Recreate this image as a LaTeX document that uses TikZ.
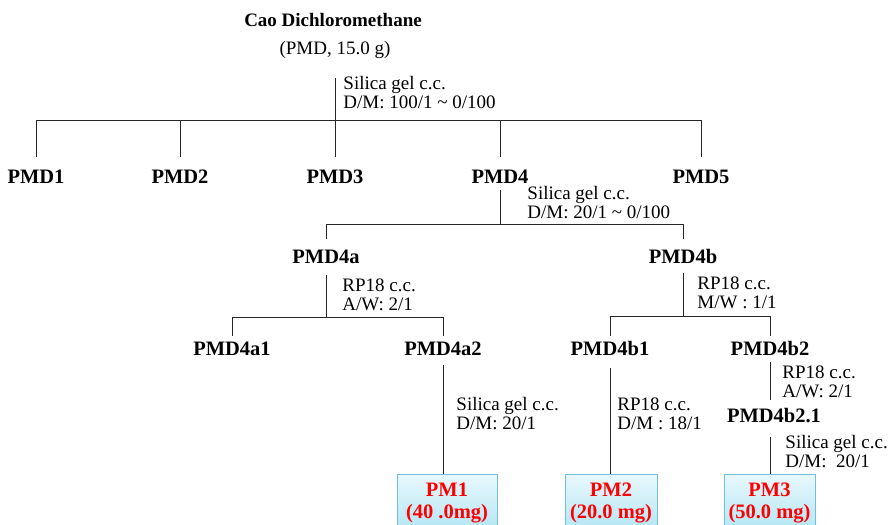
\documentclass[tikz,border=0pt]{standalone}
\usepackage{fontspec}
\setmainfont{Liberation Serif}
\usetikzlibrary{calc}

\definecolor{boxline}{HTML}{6EC1D9}
\definecolor{boxtop}{HTML}{E8F8FD}
\definecolor{boxbot}{HTML}{B3E5F4}

\begin{document}
\begin{tikzpicture}[
    x=1pt, y=-1pt,
    line width=0.9pt,
    lbl/.style={inner sep=0pt, anchor=base, text height=14pt, text depth=0pt,
                font=\fontsize{20.5}{22}\selectfont\bfseries},
    note/.style={inner sep=0pt, anchor=north west, align=left,
                 font=\fontsize{19}{19}\selectfont},
    pmbox/.style={draw=boxline, line width=0.8pt, top color=boxtop, bottom color=boxbot,
                  minimum height=58pt, inner sep=0pt, align=center, text=red,
                  font=\fontsize{20.5}{22}\selectfont\bfseries},
    tree/.style={draw=black!85},
  ]
  \useasboundingbox (0,0) rectangle (890,524);
  \clip (0,0) rectangle (890,524);

  %% ===== 出発物 =====
  \node[lbl, font=\fontsize{19}{20}\selectfont\bfseries] (title) at (333,27) {Cao Dichloromethane};
  \node[lbl, font=\fontsize{19}{20}\selectfont] (sub) at (335,55) {(PMD, 15.0 g)};
  \node[note] (n0) at (343,76) {Silica gel c.c.\\D/M: 100/1 \textasciitilde{} 0/100};
  \coordinate (j0) at (335,120);

  %% ===== 第1段: PMD1--PMD5 =====
  \node[lbl] (pmd1) at (36,183)  {PMD1};
  \node[lbl] (pmd2) at (180,183) {PMD2};
  \node[lbl] (pmd3) at (335,183) {PMD3};
  \node[lbl] (pmd4) at (500,183) {PMD4};
  \node[lbl] (pmd5) at (701,183) {PMD5};

  \draw[tree] ([yshift=-23pt]sub.south) -- (j0);
  \foreach \c in {pmd1,pmd2,pmd3,pmd4,pmd5}
    \draw[tree] (j0) -| ([yshift=12pt]\c.north);

  %% ===== 第2段: PMD4a, PMD4b =====
  \node[note] (n4) at (527,186) {Silica gel c.c.\\D/M: 20/1 \textasciitilde{} 0/100};
  \coordinate (j4) at (500,224);
  \node[lbl] (pmd4a) at (326,263) {PMD4a};
  \node[lbl] (pmd4b) at (683,263) {PMD4b};

  \draw[tree] ([yshift=-7pt]pmd4.south) -- (j4);
  \foreach \c in {pmd4a,pmd4b}
    \draw[tree] (j4) -| ([yshift=10pt]\c.north);

  %% ===== 第3段: PMD4a1, PMD4a2, PMD4b1, PMD4b2 =====
  \node[note] (n4a) at (342,278) {RP18 c.c.\\A/W: 2/1};
  \node[note] (n4b) at (697,276) {RP18 c.c.\\M/W : 1/1};
  \coordinate (j4a) at (326,317);
  \coordinate (j4b) at (683,316);
  \node[lbl] (pmd4a1) at (232,355) {PMD4a1};
  \node[lbl] (pmd4a2) at (443,355) {PMD4a2};
  \node[lbl] (pmd4b1) at (610,355) {PMD4b1};
  \node[lbl] (pmd4b2) at (770,355) {PMD4b2};

  \draw[tree] ([yshift=-12pt]pmd4a.south) -- (j4a);
  \draw[tree] ([yshift=-10pt]pmd4b.south) -- (j4b);
  \foreach \c in {pmd4a1,pmd4a2}
    \draw[tree] (j4a) -| ([yshift=5pt]\c.north);
  \foreach \c in {pmd4b1,pmd4b2}
    \draw[tree] (j4b) -| ([yshift=5pt]\c.north);

  %% ===== PMD4b2 -> PMD4b2.1 =====
  \node[note] (n4b2) at (782,365) {RP18 c.c.\\A/W: 2/1};
  \node[lbl] (pmd4b21) at (774,422) {PMD4b2.1};
  \draw[tree] ([yshift=-7pt]pmd4b2.south) -- ($(pmd4b2 |- pmd4b21.north)+(0,-8)$);

  %% ===== 単離化合物 =====
  \node[note] (n4a2) at (456,397) {Silica gel c.c.\\D/M: 20/1};
  \node[note] (n4b1) at (617,397) {RP18 c.c.\\D/M : 18/1};
  \node[note] (n4b21) at (785,435) {Silica gel c.c.\\D/M:~ 20/1};

  \node[pmbox, minimum width=100pt] (pm1) at (447,503)   {PM1\\(40 .0mg)};
  \node[pmbox, minimum width=92pt]  (pm2) at (611,503)   {PM2\\(20.0 mg)};
  \node[pmbox, minimum width=91pt]  (pm3) at (769.5,503) {PM3\\(50.0 mg)};

  \draw[tree] ([yshift=-10pt]pmd4a2.south) -- (pmd4a2 |- pm1.north);
  \draw[tree] ([yshift=-13pt]pmd4b1.south) -- (pmd4b1 |- pm2.north);
  \draw[tree] ($(pmd4b2 |- pmd4b21.south)+(0,15)$) -- (pmd4b2 |- pm3.north);

\end{tikzpicture}
\end{document}
